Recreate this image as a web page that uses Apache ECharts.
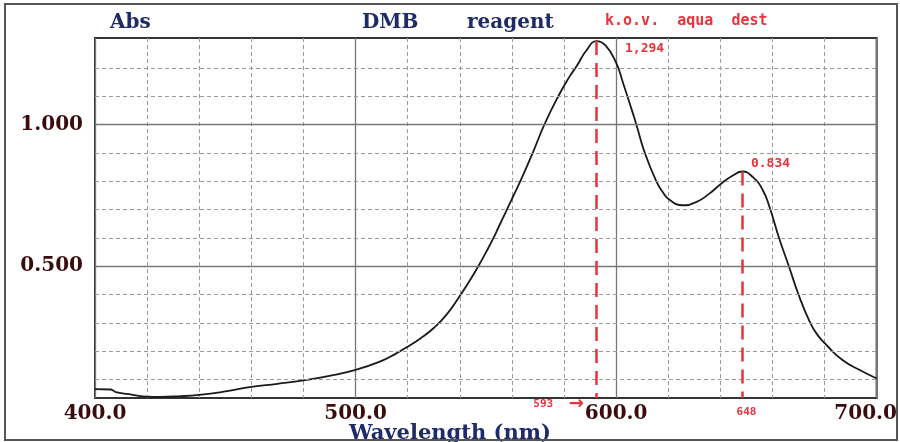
<!DOCTYPE html>
<html>
<head>
<meta charset="utf-8">
<script src="https://cdn.jsdelivr.net/npm/echarts@6/dist/echarts.min.js"></script>
<style>
html,body{margin:0;padding:0;background:#fff;}
#wrap{position:relative;width:900px;height:442px;}
#chart{width:900px;height:442px;}
#frame{position:absolute;left:4px;top:3px;width:894px;height:438px;border:2px solid #555;box-sizing:border-box;pointer-events:none;}
</style>
</head>
<body>
<div id="wrap"><div id="chart"></div><div id="frame"></div></div>
<script>
// Wavelength (nm) and absorbance
const wavelength = [400,406,408,414,420,425,432,440,450,460,470,480,490,500,510,515,520,525,530,535,540,544,547,550,552.8,555,557.5,560,563.5,568,572.5,577.6,582,585,588.5,592.5,596,600,602.6,606.4,607.7,611,615.4,618,620.5,625.5,630.7,635.8,640.3,644.8,648.5,652.5,656.3,659,662.5,666.3,670,674.5,677.5,680.7,687,693.5,700];
const absorbance = [0.066,0.065,0.056,0.047,0.040,0.039,0.041,0.046,0.058,0.074,0.085,0.097,0.113,0.134,0.166,0.189,0.216,0.246,0.282,0.330,0.395,0.452,0.498,0.548,0.597,0.640,0.688,0.737,0.805,0.900,1.000,1.096,1.167,1.208,1.260,1.294,1.278,1.218,1.148,1.040,1.002,0.900,0.800,0.760,0.734,0.715,0.726,0.756,0.791,0.820,0.834,0.814,0.768,0.705,0.600,0.500,0.400,0.300,0.255,0.222,0.168,0.134,0.104];
const yMajorTicks = [0.5, 1.0];
const yMinorTicks = [0.1,0.2,0.3,0.4,0.6,0.7,0.8,0.9,1.1,1.2];
const peaks = [[592.5,1.294,'1,294'],[648.5,0.834,'0.834']];
const peakWavelengthLabels = ['593','648'];

const yMin = 0.035, yMax = 1.305;
const serif = '"DejaVu Serif", "Liberation Serif", serif';
const hand = '"DejaVu Sans Mono", monospace';
const labelColor = '#3a0c0c';
const navy = '#1f2a68';
const red = '#e8323c';

const curve = wavelength.map((w,i)=>[w, absorbance[i]]);

const gridLines = [];
yMinorTicks.forEach(v=>gridLines.push({yAxis:v, lineStyle:{color:'#9a9a9a',type:[4,3],width:1}}));
yMajorTicks.forEach(v=>gridLines.push({yAxis:v, lineStyle:{color:'#777',type:'solid',width:1.3}}));

const redLines = peaks.map(p=>[{coord:[p[0], p[1]]},{coord:[p[0], yMin]}]);

const chart = echarts.init(document.getElementById('chart'), null, {renderer:'canvas'});
chart.setOption({
  animation:false,
  backgroundColor:'#fff',
  title:[
    {text:'Abs', left:105, top:8, textStyle:{fontFamily:serif,fontWeight:'bold',fontSize:20,color:navy}},
    {text:'DMB', left:357, top:8, textStyle:{fontFamily:serif,fontWeight:'bold',fontSize:20,color:navy}},
    {text:'reagent', left:462, top:8, textStyle:{fontFamily:serif,fontWeight:'bold',fontSize:20,color:navy}},
    {text:'k.o.v.  aqua  dest', left:600, top:9, textStyle:{fontFamily:hand,fontWeight:'bold',fontSize:15,color:red}},
    {text:'Wavelength (nm)', left:344, top:418, textStyle:{fontFamily:serif,fontWeight:'bold',fontSize:21,color:navy}}
  ],
  grid:{left:95,right:23,top:38,bottom:44,show:true,borderColor:'#333',borderWidth:2,backgroundColor:'#fff'},
  xAxis:[
    {type:'value',min:400,max:700,interval:20,
     axisLine:{show:false},axisTick:{show:false},axisLabel:{show:false},
     splitLine:{show:true,lineStyle:{color:'#9a9a9a',type:[4,3],width:1}}},
    {type:'value',min:400,max:700,interval:100,position:'bottom',
     axisLine:{show:false},axisTick:{show:false},
     splitLine:{show:true,lineStyle:{color:'#777',type:'solid',width:1.3}},
     axisLabel:{show:true,margin:6,showMinLabel:true,showMaxLabel:true,
       fontFamily:serif,fontWeight:'bold',fontSize:20,color:labelColor,
       formatter:function(v){return v===700 ? '{r|700.0}' : v.toFixed(1);},
       rich:{r:{fontFamily:serif,fontWeight:'bold',fontSize:20,color:labelColor,padding:[0,22,0,0]}}}}
  ],
  yAxis:{type:'value',min:yMin,max:yMax,
    axisLine:{show:false},axisTick:{show:false},splitLine:{show:false},
    axisLabel:{show:true,customValues:yMajorTicks,margin:12,fontFamily:serif,fontWeight:'bold',fontSize:20,color:labelColor,
      formatter:function(v){return v.toFixed(3);}}},
  series:[
    {type:'line',xAxisIndex:0,data:curve,showSymbol:false,silent:true,lineStyle:{opacity:0},
     markLine:{silent:true,symbol:['none','none'],label:{show:false},data:gridLines}},
    {type:'line',xAxisIndex:0,data:curve,showSymbol:false,smooth:0.5,silent:true,
     lineStyle:{color:'#1a1a1a',width:1.8}},
    {type:'line',xAxisIndex:0,data:[],silent:true,
     markLine:{silent:true,symbol:['none','none'],label:{show:false},
       lineStyle:{color:red,type:[14,8],width:2.5},data:redLines},
     markPoint:{silent:true,symbol:'circle',symbolSize:1,itemStyle:{color:'rgba(0,0,0,0)'},
       label:{show:true,position:'inside',fontFamily:hand,fontSize:13,fontWeight:'bold',color:red},
       data:[
         {coord:[peaks[0][0],peaks[0][1]],value:peaks[0][2],label:{formatter:peaks[0][2],offset:[48,8]}},
         {coord:[peaks[1][0],peaks[1][1]],value:peaks[1][2],label:{formatter:peaks[1][2],offset:[28,-8]}},
         {coord:[peaks[0][0],yMin],value:peakWavelengthLabels[0],label:{formatter:'{a|'+peakWavelengthLabels[0]+'}  {b|\u2192}',offset:[-38,6],
            rich:{a:{fontFamily:hand,fontSize:11,fontWeight:'bold',color:red},b:{fontFamily:'"DejaVu Sans", sans-serif',fontSize:18,fontWeight:'bold',color:red}}}},
         {coord:[peaks[1][0],yMin],value:peakWavelengthLabels[1],label:{formatter:peakWavelengthLabels[1],offset:[4,14],fontSize:11}}
       ]}}
  ]
});
</script>
</body>
</html>
